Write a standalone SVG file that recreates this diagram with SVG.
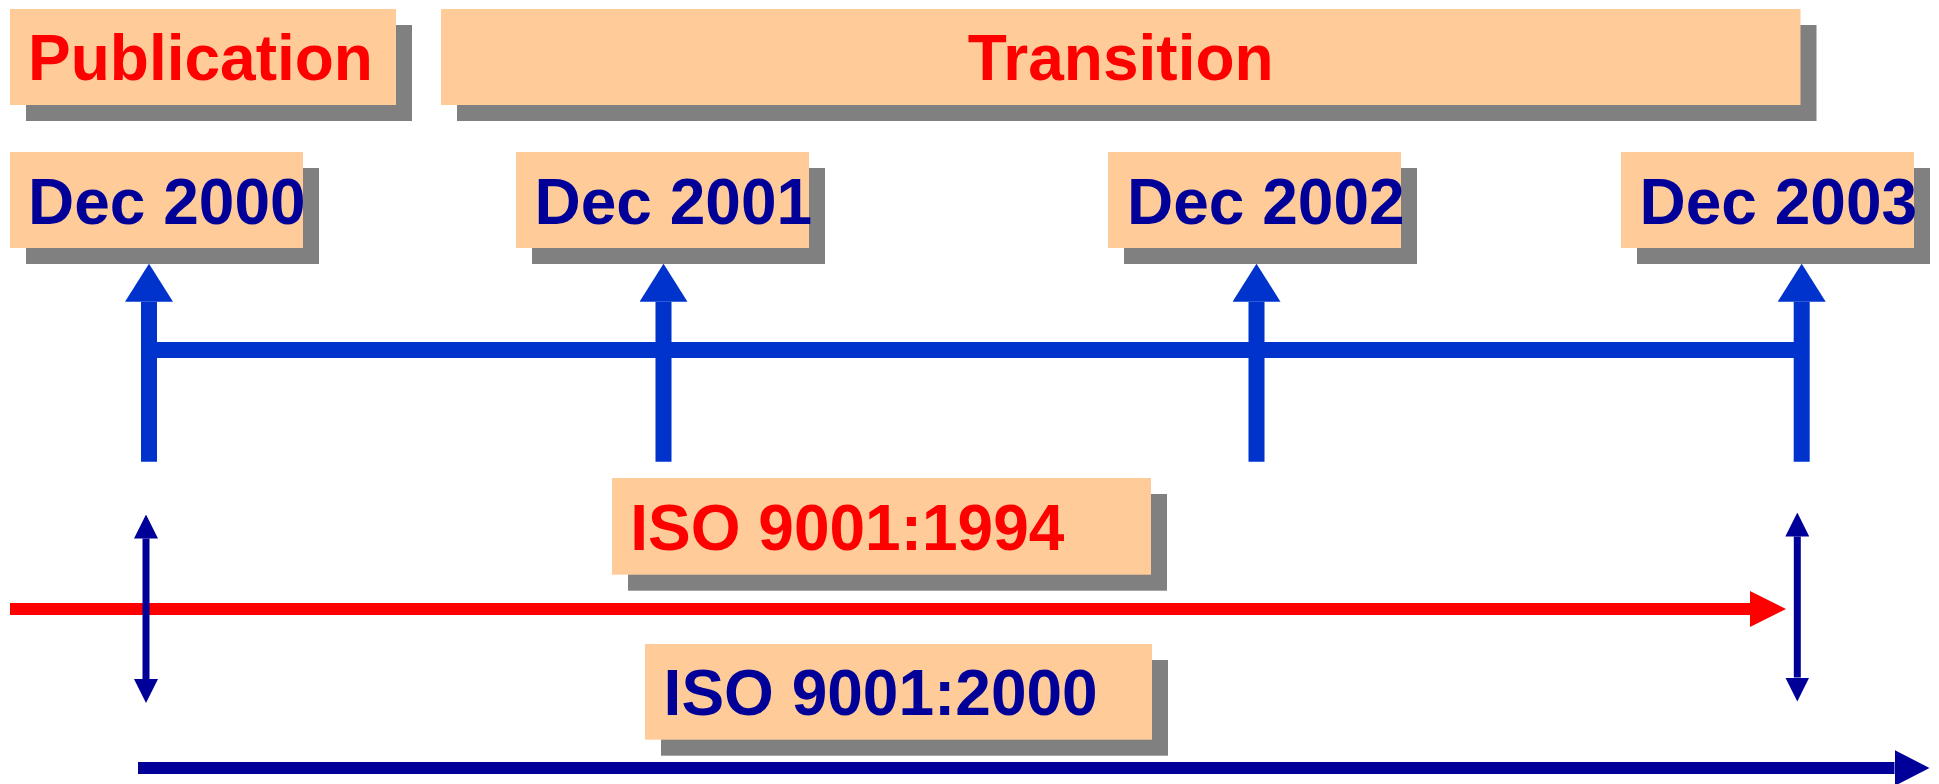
<svg xmlns="http://www.w3.org/2000/svg" width="1939" height="784" viewBox="0 0 1939 784">
<style>
  .box { fill: #FFCC99; }
  .shd { fill: #808080; }
  .t { font-family: "Liberation Sans", Arial, sans-serif; font-weight: bold; font-size: 64px; }
  .red { fill: #FF0000; }
  .navy { fill: #000099; }
  .up { stroke: #0033CC; stroke-width: 16; fill: none; marker-end: url(#ahUp); }
  .bar { stroke: #0033CC; stroke-width: 16; fill: none; }
  .dbl { stroke: #000099; stroke-width: 7; fill: none; marker-start: url(#ahSmall); marker-end: url(#ahSmall); }
</style>
<defs>
  <marker id="ahUp" viewBox="0 0 38 48" refX="0" refY="24" markerWidth="38" markerHeight="48" markerUnits="userSpaceOnUse" orient="auto">
    <path d="M0,0 L38,24 L0,48 Z" fill="#0033CC"/>
  </marker>
  <marker id="ahRed" viewBox="0 0 36 36" refX="0" refY="18" markerWidth="36" markerHeight="36" markerUnits="userSpaceOnUse" orient="auto">
    <path d="M0,0 L36,18 L0,36 Z" fill="#FF0000"/>
  </marker>
  <marker id="ahNavy" viewBox="0 0 35 36" refX="0" refY="18" markerWidth="35" markerHeight="36" markerUnits="userSpaceOnUse" orient="auto">
    <path d="M0,0 L35,18 L0,36 Z" fill="#000099"/>
  </marker>
  <marker id="ahSmall" viewBox="0 0 24 24" refX="0" refY="12" markerWidth="24" markerHeight="24" markerUnits="userSpaceOnUse" orient="auto-start-reverse">
    <path d="M0,0 L24,12 L0,24 Z" fill="#000099"/>
  </marker>
</defs>

<g id="connectors">
  <line class="bar" x1="149" y1="350" x2="1801.7" y2="350"/>
  <line class="up" x1="149" y1="461.7" x2="149" y2="301.7"/>
  <line class="up" x1="663.5" y1="461.7" x2="663.5" y2="301.7"/>
  <line class="up" x1="1256.5" y1="461.7" x2="1256.5" y2="301.7"/>
  <line class="up" x1="1801.7" y1="461.7" x2="1801.7" y2="301.7"/>
  <line x1="10" y1="609" x2="1750" y2="609" stroke="#FF0000" stroke-width="12" marker-end="url(#ahRed)"/>
  <line x1="138" y1="768" x2="1894.5" y2="768" stroke="#000099" stroke-width="12" marker-end="url(#ahNavy)"/>
  <line class="dbl" x1="146" y1="538.5" x2="146" y2="679"/>
  <line class="dbl" x1="1797.3" y1="536.5" x2="1797.3" y2="677.5"/>
</g>

<g id="publication">
  <rect class="shd" x="26" y="25" width="386" height="96"/>
  <rect class="box" x="10" y="9" width="386" height="96"/>
  <text class="t red" x="28" y="80">Publication</text>
</g>

<g id="transition">
  <rect class="shd" x="457" y="25" width="1359.5" height="96"/>
  <rect class="box" x="441" y="9" width="1359.5" height="96"/>
  <text class="t red" x="1120.7" y="80" text-anchor="middle">Transition</text>
</g>

<g id="dec2000">
  <rect class="shd" x="26" y="168" width="293" height="96"/>
  <rect class="box" x="10" y="152" width="293" height="96"/>
  <text class="t navy" x="28" y="224">Dec 2000</text>
</g>

<g id="dec2001">
  <rect class="shd" x="532" y="168" width="293" height="96"/>
  <rect class="box" x="516" y="152" width="293" height="96"/>
  <text class="t navy" x="534.5" y="224">Dec 2001</text>
</g>

<g id="dec2002">
  <rect class="shd" x="1124" y="168" width="293" height="96"/>
  <rect class="box" x="1108" y="152" width="293" height="96"/>
  <text class="t navy" x="1127" y="224">Dec 2002</text>
</g>

<g id="dec2003">
  <rect class="shd" x="1637" y="168" width="293" height="96"/>
  <rect class="box" x="1621" y="152" width="293" height="96"/>
  <text class="t navy" x="1639.5" y="224">Dec 2003</text>
</g>

<g id="iso1994">
  <rect class="shd" x="628" y="494" width="539" height="96.7"/>
  <rect class="box" x="612" y="478" width="539" height="96.7"/>
  <text class="t red" x="630.3" y="550">ISO 9001:1994</text>
</g>

<g id="iso2000">
  <rect class="shd" x="661" y="660" width="507" height="95.7"/>
  <rect class="box" x="645" y="644" width="507" height="95.7"/>
  <text class="t navy" x="663.6" y="715">ISO 9001:2000</text>
</g>
</svg>
